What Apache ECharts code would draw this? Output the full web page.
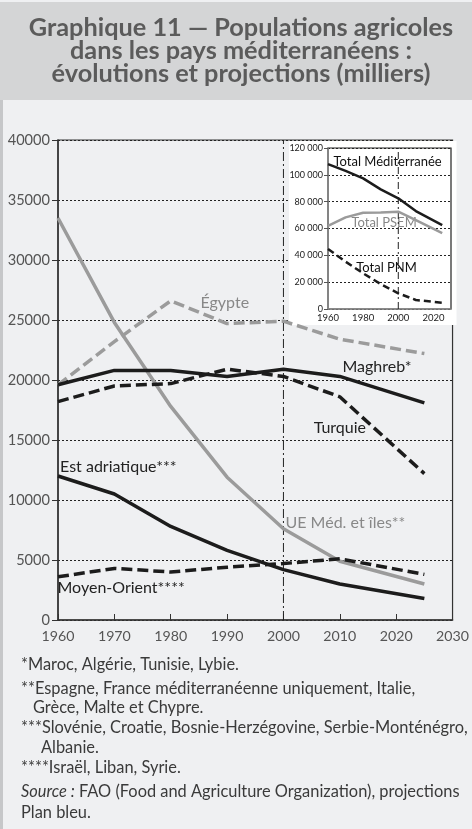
<!DOCTYPE html>
<html><head><meta charset="utf-8">
<script src="https://cdn.jsdelivr.net/npm/echarts@6/dist/echarts.min.js"></script>
<style>html,body{margin:0;padding:0;background:#eff0f2}#c{width:472px;height:829px}</style>
</head><body><div id="c"></div>
<script>
// ---- data (thousands) ----
const years = [1960, 1970, 1980, 1990, 2000, 2010, 2025];
const egypte = [19600, 23200, 26600, 24700, 24900, 23400, 22200];
const ueMed = [33500, 24800, 17800, 11900, 7600, 4900, 3000];
const maghreb = [19600, 20800, 20800, 20300, 20900, 20300, 18100];
const turquie = [18200, 19500, 19700, 20900, 20300, 18600, 12200];
const estAdriatique = [12000, 10500, 7800, 5800, 4200, 3000, 1800];
const moyenOrient = [3600, 4300, 4000, 4400, 4700, 5100, 3800];
const totalMed = [108000, 103000, 97400, 89200, 82500, 73000, 62500];
const totalPSEM = [62000, 68300, 71800, 71900, 72500, 66300, 56500];
const totalPNM = [44700, 35300, 26600, 18600, 11700, 6700, 4700];
const refYear = 2000;
const mainYTicks = [0, 40000, 5000];
const insetYTicks = [0, 120000, 20000];
const xTicks = [1960, 2030, 10];

const FONT = 'Lato';
const BLACK = '#1c1c1c', GRAY = '#9b9b9b';
const pair = arr => years.map((y, i) => [y, arr[i]]);

function lbl(name, coord, color, size) {
  return { silent: true, symbol: 'rect', symbolSize: 1, itemStyle: { color: 'rgba(0,0,0,0)' },
    label: { show: true, position: 'inside', color: color, fontFamily: FONT, fontSize: size, formatter: name },
    data: [{ name: name, coord: coord }] };
}
function mainSeries(arr, color, dashed, label) {
  return { type: 'line', xAxisIndex: 0, yAxisIndex: 0, data: pair(arr), symbol: 'none', z: 6,
    lineStyle: { color: color, width: 3.5, type: dashed ? [11, 5] : 'solid', cap: 'butt' },
    markPoint: label };
}
function insetSeries(arr, color, dashed, label) {
  return { type: 'line', xAxisIndex: 1, yAxisIndex: 1, data: pair(arr), symbol: 'none', z: 12,
    lineStyle: { color: color, width: 2.5, type: dashed ? [7, 4] : 'solid' },
    markPoint: label };
}

const chart = echarts.init(document.getElementById('c'), null, { renderer: 'canvas' });
const FS = 16.4;
const footStyle = { fontFamily: FONT, fontSize: FS, fill: '#3a3a3a' };
const titleStyle = { fontFamily: FONT, fontWeight: 'bold', fontSize: 25.3, fill: '#5b5b5b', textAlign: 'center', textVerticalAlign: 'middle' };
chart.setOption({
  animation: false,
  backgroundColor: '#eff0f2',
  grid: [
    { left: 58, right: 15, top: 140, bottom: 209, show: true, borderColor: '#333', borderWidth: 1.2, backgroundColor: 'transparent' },
    { left: 328, right: 21, top: 148, bottom: 520, show: true, borderColor: '#222', borderWidth: 1.2, backgroundColor: 'transparent', z: 10 }
  ],
  xAxis: [
    { type: 'value', gridIndex: 0, min: xTicks[0], max: xTicks[1], interval: xTicks[2],
      axisLine: { lineStyle: { color: '#333', width: 1.5 } },
      axisTick: { show: true, inside: true, length: 6, lineStyle: { color: '#333' } },
      axisLabel: { color: '#555', fontFamily: FONT, fontSize: 14.2, margin: 9, formatter: v => String(v) },
      splitLine: { show: false } },
    { type: 'value', gridIndex: 1, min: 1960, max: 2030, interval: 20, z: 11,
      axisLine: { lineStyle: { color: '#888', width: 1.5 } },
      axisTick: { show: false },
      axisLabel: { color: '#222', fontFamily: FONT, fontSize: 9.5, margin: 4, showMaxLabel: false, formatter: v => String(v) },
      splitLine: { show: false } }
  ],
  yAxis: [
    { type: 'value', gridIndex: 0, min: mainYTicks[0], max: mainYTicks[1], interval: mainYTicks[2],
      axisLine: { show: true, lineStyle: { color: '#333', width: 1.5 } },
      axisTick: { show: true, length: 6, lineStyle: { color: '#333' } },
      axisLabel: { color: '#555', fontFamily: FONT, fontSize: 14.6, margin: 8, formatter: v => String(v) },
      splitLine: { show: true, lineStyle: { color: '#222', width: 1, type: [2, 2] } } },
    { type: 'value', gridIndex: 1, min: insetYTicks[0], max: insetYTicks[1], interval: insetYTicks[2], z: 11,
      axisLine: { show: true, lineStyle: { color: '#888', width: 1.5 } },
      axisTick: { show: true, length: 4, lineStyle: { color: '#555' } },
      axisLabel: { color: '#222', fontFamily: FONT, fontSize: 9, margin: 5,
        formatter: v => v === 0 ? '0' : (v / 1000) + ' 000' },
      splitLine: { show: true, lineStyle: { color: '#222', width: 1, type: [2, 2] } } }
  ],
  series: [
    { type: 'line', xAxisIndex: 0, yAxisIndex: 0, data: [[refYear, 0], [refYear, mainYTicks[1]]], symbol: 'none', z: 1,
      lineStyle: { color: '#222', width: 1, type: [9, 3, 2, 3] } },
    { type: 'line', xAxisIndex: 1, yAxisIndex: 1, data: [[refYear, 0], [refYear, insetYTicks[1]]], symbol: 'none', z: 11,
      lineStyle: { color: '#222', width: 1, type: [7, 3, 2, 3] } },
    mainSeries(ueMed, GRAY, false, lbl('UE Méd. et îles**', [2011, 8080], '#888', 16)),
    mainSeries(egypte, GRAY, true, lbl('Égypte', [1989.6, 26400], '#888', 16)),
    mainSeries(maghreb, BLACK, false, lbl('Maghreb*', [2016.6, 21080], '#222', 16)),
    mainSeries(turquie, BLACK, true, lbl('Turquie', [2010, 16000], '#222', 16)),
    mainSeries(estAdriatique, BLACK, false, lbl('Est adriatique***', [1970.7, 12750], '#222', 16)),
    mainSeries(moyenOrient, BLACK, true, lbl('Moyen-Orient****', [1971.2, 2670], '#222', 16)),
    insetSeries(totalPSEM, GRAY, false, lbl('Total PSEM', [1991.9, 63900], '#888', 13)),
    insetSeries(totalMed, BLACK, false, lbl('Total Méditerranée', [1993.9, 109800], '#111', 13)),
    insetSeries(totalPNM, BLACK, true, lbl('Total PNM', [1993.3, 30800], '#111', 13))
  ],
  graphic: [
    { type: 'rect', z: 0, silent: true, shape: { x: 0, y: 2, width: 472, height: 98 }, style: { fill: '#d4d5d6' } },
    { type: 'rect', z: 0, silent: true, shape: { x: 0, y: 100, width: 3, height: 729 }, style: { fill: '#c6c7c9' } },
    { type: 'rect', z: 5, silent: true, shape: { x: 289, y: 141, width: 167.5, height: 184 }, style: { fill: '#ffffff' } },
    { type: 'text', z: 20, x: 241, y: 28, style: Object.assign({ text: 'Graphique 11 — Populations agricoles' }, titleStyle) },
    { type: 'text', z: 20, x: 241, y: 51, style: Object.assign({ text: 'dans les pays méditerranéens :' }, titleStyle) },
    { type: 'text', z: 20, x: 241, y: 74, style: Object.assign({ text: 'évolutions et projections (milliers)' }, titleStyle) },
    { type: 'text', z: 20, x: 21, y: 665, style: Object.assign({ text: '*Maroc, Algérie, Tunisie, Lybie.', textVerticalAlign: 'middle' }, footStyle) },
    { type: 'text', z: 20, x: 21, y: 689, style: Object.assign({ text: '**Espagne, France méditerranéenne uniquement, Italie,', textVerticalAlign: 'middle' }, footStyle) },
    { type: 'text', z: 20, x: 33, y: 708, style: Object.assign({ text: 'Grèce, Malte et Chypre.', textVerticalAlign: 'middle' }, footStyle) },
    { type: 'text', z: 20, x: 21, y: 728, style: Object.assign({ text: '***Slovénie, Croatie, Bosnie-Herzégovine, Serbie-Monténégro,', textVerticalAlign: 'middle' }, footStyle) },
    { type: 'text', z: 20, x: 41, y: 748, style: Object.assign({ text: 'Albanie.', textVerticalAlign: 'middle' }, footStyle) },
    { type: 'text', z: 20, x: 21, y: 768, style: Object.assign({ text: '****Israël, Liban, Syrie.', textVerticalAlign: 'middle' }, footStyle) },
    { type: 'text', z: 20, x: 21, y: 792, style: Object.assign({ text: '{i|Source :} FAO (Food and Agriculture Organization), projections', textVerticalAlign: 'middle',
        rich: { i: { fontStyle: 'italic', fontFamily: FONT, fontSize: FS, fill: '#3a3a3a' } } }, footStyle) },
    { type: 'text', z: 20, x: 21, y: 813, style: Object.assign({ text: 'Plan bleu.', textVerticalAlign: 'middle' }, footStyle) }
  ]
});
</script></body></html>
